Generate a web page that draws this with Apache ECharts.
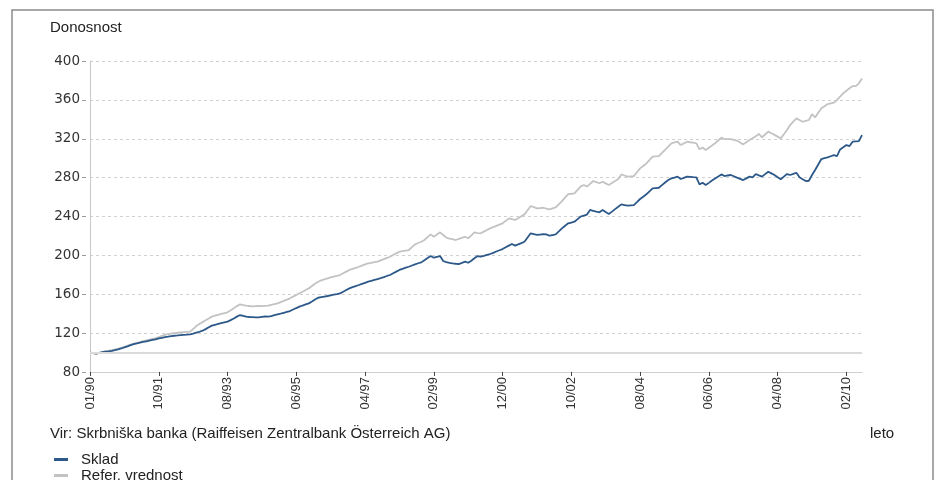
<!DOCTYPE html>
<html>
<head>
<meta charset="utf-8">
<script src="https://cdn.jsdelivr.net/npm/echarts@6/dist/echarts.min.js"></script>
<style>html,body{margin:0;padding:0;background:#fff;}#c{width:939px;height:480px;}</style>
</head>
<body>
<div id="c"></div>
<script>
// Tick labels shown on the x axis (one every 22 months)
const tickLabels = ['01/90','10/91','08/93','06/95','04/97','02/99','12/00','10/02','08/04','06/06','04/08','02/10'];

// Sklad (fund) monthly values
const sklad = [
100,99.5,99,99.6,100.4,101,101.3,101.8,102.5,103.3,
104.2,105.3,106.4,107.6,108.7,109.5,110.2,110.9,111.6,112.3,
113,113.6,114.5,115.2,115.8,116.3,116.9,117.3,117.6,118.0,
118.3,118.5,118.8,119.6,120.5,121.4,122.5,124.1,126.0,127.7,
128.6,129.4,130.2,131.0,131.8,133.4,135.1,137.0,138.6,137.8,
136.9,136.6,136.4,136.2,136.3,136.8,137.1,137.0,137.6,138.5,
139.3,140.0,140.9,141.8,142.7,144.3,145.8,147.2,148.4,149.5,
150.6,152.5,154.6,156.4,157.0,157.6,158.2,158.9,159.6,160.2,
160.9,162.6,164.3,166.0,167.3,168.4,169.5,170.7,171.8,172.9,
173.8,174.7,175.6,176.5,177.6,178.8,179.8,181.6,183.3,185.0,
186.2,187.3,188.3,189.6,190.8,191.9,192.8,195.0,197.2,199.3,
197.6,198.5,199.3,194.2,193.1,192.4,191.8,191.4,191.1,192.2,
193.5,192.4,194.5,197.0,199.3,198.6,199.4,200.5,201.4,202.6,
204.0,205.3,206.5,208.3,210.0,211.7,210.0,211.3,212.6,214.0,
218.4,222.7,221.8,221.0,221.4,221.8,221.6,220.2,220.9,221.6,
224.6,227.8,230.5,233.0,233.8,234.6,237.3,240.0,241.0,242.0,
246.7,245.8,244.9,244.3,246.7,244.6,242.6,245.0,247.6,250.0,
252.5,251.8,251.1,251.4,251.7,254.8,258.0,260.4,262.8,265.9,
269.0,269.3,269.6,272.3,275.0,277.5,279.2,280.1,281.0,278.6,
279.8,281.0,280.8,280.5,280.3,273.1,274.8,272.4,274.6,277.0,
279.2,281.2,283.3,281.6,282.2,282.7,281.4,280.0,278.8,277.5,
279.2,281.0,280.3,283.7,282.3,281.0,283.6,286.1,284.4,282.7,
280.5,278.3,281.0,283.7,282.7,283.8,285.0,280.3,278.4,276.5,
276.8,282.7,287.8,293.5,299.1,300.0,300.8,302.0,303.2,302.2,
309.0,311.2,313.5,312.5,317.0,317.3,317.6,323.8
];

// Referenčna vrednost (benchmark) monthly values
const refer = [
100,99.4,99,99.8,100.6,101.5,102.0,102.5,103.2,104.0,
104.9,106.0,107.2,108.3,109.3,110.0,110.8,111.7,112.5,113.3,
114.0,114.9,116.0,117.2,118.2,119.0,119.6,120.1,120.4,120.8,
121.1,121.3,121.5,124.2,127.3,129.3,131.3,133.2,135.1,137.0,
137.9,138.8,139.7,140.5,141.4,143.5,145.7,147.8,149.6,148.8,
148.2,147.9,147.6,147.8,148.0,147.7,148.0,148.2,149.0,149.8,
150.6,151.9,153.2,154.5,155.8,157.6,159.3,161.0,162.6,164.3,
166.0,168.4,170.7,172.9,174.2,175.3,176.4,177.3,178.1,179.0,
179.8,181.6,183.3,185.0,186.1,187.2,188.3,189.5,190.7,191.8,
192.4,193.0,193.5,194.9,196.2,197.4,198.6,200.4,202.1,203.8,
204.4,205.0,205.5,208.5,211.4,212.7,214.0,215.8,218.7,221.6,
219.2,221.5,223.7,221.0,218.2,217.3,216.6,215.8,216.9,218.1,
219.2,217.6,220.6,223.7,223.0,222.7,224.4,226.1,227.8,229.1,
230.4,231.7,233.0,235.5,238.0,237.2,236.4,238.3,240.2,242.2,
246.5,250.8,249.6,248.4,248.7,249.0,248.1,247.3,248.4,249.4,
252.6,255.9,259.5,263.1,263.4,263.8,267.4,271.0,272.4,270.8,
273.6,276.5,275.3,274.2,275.8,274.1,272.4,274.5,276.5,278.6,
283.3,282.2,281.0,281.3,281.6,285.5,289.5,292.0,294.6,298.0,
301.5,301.9,302.2,305.4,308.6,311.8,315.3,316.2,317.0,313.5,
315.2,317.0,316.4,315.9,315.3,309.2,310.9,308.5,310.8,313.0,
315.3,318.2,321.1,319.7,319.7,319.7,318.8,318.0,316.1,314.2,
316.5,318.7,320.4,322.6,324.9,321.5,324.4,327.3,325.6,324.0,
322.2,320.4,324.7,329.0,334.1,337.6,341.0,339.3,337.5,338.4,
339.3,345.4,342.0,346.7,351.3,353.5,355.7,356.4,357.1,359.9,
363.4,366.8,369.4,372.0,374.2,374.2,377.0,382.0
];

const seriesNames = ['Sklad', 'Refer. vrednost'];
const labelStep = 22;

// month categories (one per data point)
const categories = sklad.map(function (v, i) {
  const m = (i % 12) + 1, y = 1990 + Math.floor(i / 12);
  return (m < 10 ? '0' + m : '' + m) + '/' + String(y).slice(2);
});

const font = '"Liberation Sans", Arial, Helvetica, sans-serif';
const legendBase = {
  orient: 'vertical', left: 49, itemWidth: 14, itemHeight: 3, icon: 'rect',
  textStyle: {fontSize: 15, color: '#222', fontFamily: font, padding: [0, 0, 0, 8]}
};
const chart = echarts.init(document.getElementById('c'), null, {renderer: 'canvas'});
chart.setOption({
  animation: false,
  backgroundColor: '#fff',
  textStyle: {fontFamily: font},
  title: {
    text: 'Donosnost', left: 45, top: 15,
    textStyle: {fontSize: 15, fontWeight: 'normal', color: '#222', fontFamily: font}
  },
  legend: [
    Object.assign({}, legendBase, {top: 447, data: [seriesNames[0]]}),
    Object.assign({}, legendBase, {top: 463, data: [seriesNames[1]]})
  ],
  grid: {left: 90, right: 77, top: 61, bottom: 108, containLabel: false},
  xAxis: {
    type: 'category', data: categories, boundaryGap: false,
    axisLine: {lineStyle: {color: '#cfcfcf', width: 1}},
    axisTick: {show: true, interval: labelStep - 1, length: 4, lineStyle: {color: '#444'}},
    axisLabel: {
      interval: labelStep - 1, rotate: 90, margin: 5,
      fontSize: 13, color: '#333', fontFamily: font,
      formatter: function (v, idx) { return tickLabels[idx / labelStep] || ''; }
    },
    splitLine: {show: false}
  },
  yAxis: {
    type: 'value', min: 80, max: 400, interval: 40,
    axisLine: {show: true, lineStyle: {color: '#c8c8c8'}},
    axisTick: {show: true, length: 8, lineStyle: {color: '#999', type: [4, 4], dashOffset: 4}},
    axisLabel: {fontSize: 13.5, color: '#333', margin: 10, fontFamily: '"DejaVu Sans", sans-serif'},
    splitLine: {show: true, lineStyle: {color: '#d0d0d0', type: [3, 3], width: 1}}
  },
  series: [
    {
      name: seriesNames[1], type: 'line', data: refer, showSymbol: false, symbol: 'none',
      lineStyle: {color: '#c3c3c3', width: 1.8}, itemStyle: {color: '#c3c3c3'}, z: 2,
      markLine: {
        silent: true, symbol: 'none', label: {show: false},
        lineStyle: {color: '#dadada', type: 'solid', width: 2},
        data: [{yAxis: 100}]
      }
    },
    {
      name: seriesNames[0], type: 'line', data: sklad, showSymbol: false, symbol: 'none',
      lineStyle: {color: '#2c5989', width: 1.8}, itemStyle: {color: '#2c5989'}, z: 3
    }
  ],
  graphic: [
    {type: 'rect', silent: true, shape: {x: 12, y: 10, width: 921, height: 490},
     style: {fill: 'none', stroke: '#8c8c8c', lineWidth: 1.5}},
    {type: 'text', left: 50, top: 426, silent: true,
     style: {text: 'Vir: Skrbniška banka (Raiffeisen Zentralbank Österreich AG)', fontSize: 15, fill: '#222', fontFamily: font}},
    {type: 'text', left: 870, top: 426, silent: true,
     style: {text: 'leto', fontSize: 15, fill: '#222', fontFamily: font}}
  ]
});
</script>
</body>
</html>
